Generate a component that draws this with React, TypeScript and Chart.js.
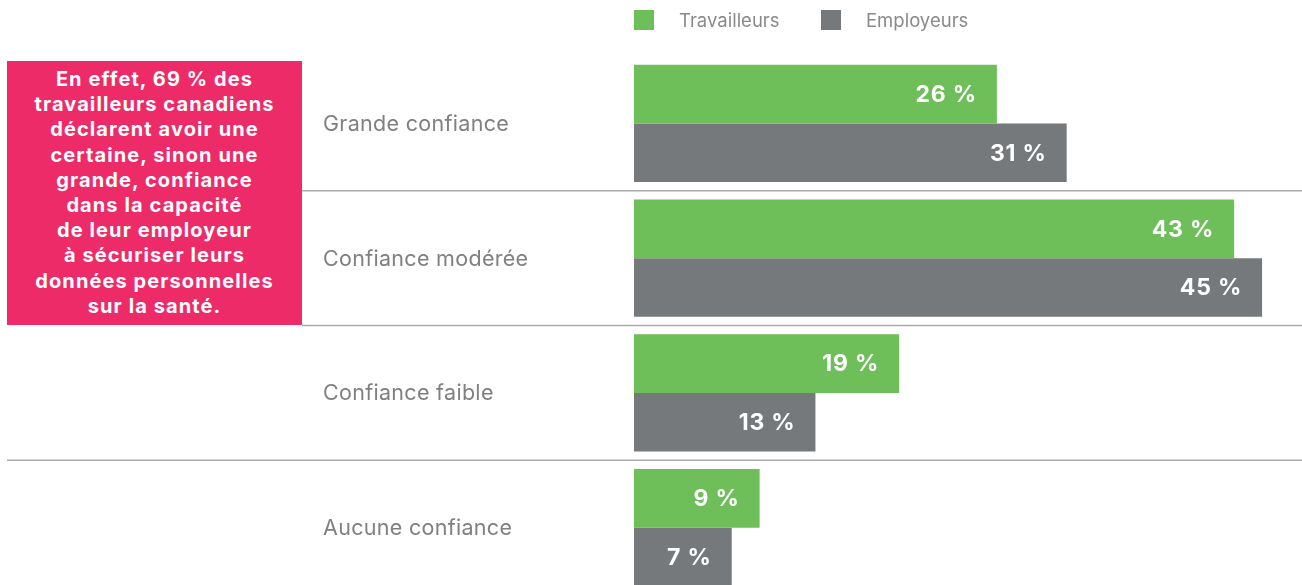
import React, { useEffect, useRef } from "react";
import { Chart, registerables } from "chart.js";

Chart.register(...registerables);

const categories = ["Grande confiance", "Confiance modérée", "Confiance faible", "Aucune confiance"];
const seriesLabels = ["Travailleurs", "Employeurs"];
const travailleurs = [26, 43, 19, 9];
const employeurs = [31, 45, 13, 7];
const seriesColors = ["#6EBE5A", "#76797C"];
const calloutLines = [
  "En effet, 69 % des",
  "travailleurs canadiens",
  "déclarent avoir une",
  "certaine, sinon une",
  "grande, confiance",
  "dans la capacité",
  "de leur employeur",
  "à sécuriser leurs",
  "données personnelles",
  "sur la santé.",
];

const FONT = "Inter, 'Noto Sans', sans-serif";

const overlayPlugin = {
  id: "overlay",
  afterDatasetsDraw(chart: any) {
    const ctx = chart.ctx;
    const yScale = chart.scales.y;
    ctx.save();
    // separators between categories
    ctx.strokeStyle = "#AAAAAA";
    ctx.lineWidth = 1.5;
    for (let i = 0; i < categories.length - 1; i++) {
      const y = (yScale.getPixelForValue(i) + yScale.getPixelForValue(i + 1)) / 2;
      const x0 = y < 330 ? 302 : 7;
      ctx.beginPath();
      ctx.moveTo(x0, y);
      ctx.lineTo(1302, y);
      ctx.stroke();
    }
    // category labels
    ctx.fillStyle = "#808080";
    ctx.font = `400 21.5px ${FONT}`;
    ctx.textAlign = "left";
    ctx.textBaseline = "middle";
    (ctx as any).letterSpacing = "0.3px";
    categories.forEach((c, i) => {
      ctx.fillText(c, 323, yScale.getPixelForValue(i) + 1);
    });
    // value labels
    ctx.fillStyle = "#FFFFFF";
    ctx.font = `700 23px ${FONT}`;
    (ctx as any).letterSpacing = "0.8px";
    ctx.textAlign = "right";
    chart.data.datasets.forEach((ds: any, di: number) => {
      const meta = chart.getDatasetMeta(di);
      meta.data.forEach((el: any, i: number) => {
        ctx.fillText(`${ds.data[i]} %`, el.x - 20, el.y + 1);
      });
    });
    // legend
    ctx.font = `400 18.5px ${FONT}`;
    (ctx as any).letterSpacing = "0px";
    ctx.textAlign = "left";
    const legendX = [634, 821];
    chart.data.datasets.forEach((ds: any, di: number) => {
      ctx.fillStyle = ds.backgroundColor;
      ctx.fillRect(legendX[di], 10, 20, 20);
      ctx.fillStyle = "#8A8A8A";
      ctx.fillText(ds.label, legendX[di] + 45, 21);
    });
    ctx.restore();
  },
};

export default function App() {
  const canvasRef = useRef<HTMLCanvasElement | null>(null);

  useEffect(() => {
    document.body.style.margin = "0";
    const canvas = canvasRef.current;
    if (!canvas) return;
    const chart = new Chart(canvas, {
      type: "bar",
      data: {
        labels: categories,
        datasets: [
          { label: seriesLabels[0], data: travailleurs, backgroundColor: seriesColors[0] },
          { label: seriesLabels[1], data: employeurs, backgroundColor: seriesColors[1] },
        ],
      },
      options: {
        indexAxis: "y",
        responsive: false,
        maintainAspectRatio: false,
        animation: false,
        layout: { padding: { left: 634, right: 12, top: 56, bottom: 5 } },
        datasets: { bar: { categoryPercentage: 0.87, barPercentage: 1.0 } },
        scales: {
          x: { display: false, min: 0, max: 47 },
          y: { display: false },
        },
        plugins: { legend: { display: false }, tooltip: { enabled: false } },
      },
      plugins: [overlayPlugin],
    });
    return () => chart.destroy();
  }, []);

  return (
    <div style={{ position: "relative", width: 1302, height: 600 }}>
      <canvas ref={canvasRef} width={1302} height={600} style={{ position: "absolute", left: 0, top: 0, width: 1302, height: 600 }} />
      <div
        style={{
          position: "absolute",
          left: 7,
          top: 61,
          width: 295,
          height: 264,
          background: "#EE2B69",
          color: "#FFFFFF",
          fontFamily: FONT,
          fontWeight: 700,
          fontSize: 20,
          letterSpacing: "1.1px",
          lineHeight: "25.2px",
          textAlign: "center",
          boxSizing: "border-box",
          paddingTop: 6,
          whiteSpace: "nowrap",
        }}
      >
        {calloutLines.map((l, i) => (
          <div key={i}>{l}</div>
        ))}
      </div>
    </div>
  );
}
